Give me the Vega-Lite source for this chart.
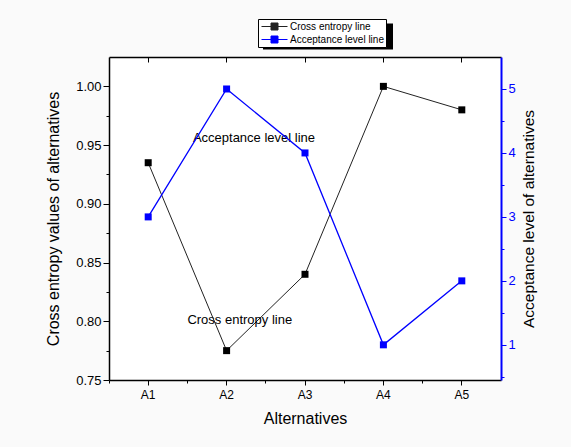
{
  "$schema": "https://vega.github.io/schema/vega-lite/v6.json",
  "width": 392,
  "height": 323,
  "autosize": {"type": "none"},
  "padding": {"left": 109, "top": 57, "right": 70, "bottom": 67},
  "background": "#fafafa",
  "config": {
    "font": "Liberation Sans",
    "view": {"stroke": null, "fill": "white"},
    "axis": {
      "labelFont": "Liberation Sans",
      "titleFont": "Liberation Sans",
      "titleFontWeight": "normal",
      "labelColor": "#000",
      "titleColor": "#000",
      "domainColor": "#000",
      "tickColor": "#000",
      "domainWidth": 1.5,
      "tickWidth": 1,
      "grid": false
    },
    "legend": {
      "orient": "none",
      "padding": 2,
      "labelFont": "Liberation Sans",
      "labelFontSize": 10,
      "labelColor": "#000",
      "labelOffset": 10,
      "symbolOffset": 9,
      "symbolType": "M-2.6,0H-0.7M0.7,0H2.6M-0.7,-0.7H0.7V0.7H-0.7Z",
      "symbolSize": 100,
      "symbolStrokeWidth": 1,
      "rowPadding": 2,
      "cornerRadius": 0
    }
  },
  "data": {
    "values": [
      {"alt": "A1", "entropy": 0.935, "acceptance": 3},
      {"alt": "A2", "entropy": 0.775, "acceptance": 5},
      {"alt": "A3", "entropy": 0.84, "acceptance": 4},
      {"alt": "A4", "entropy": 1.0, "acceptance": 1},
      {"alt": "A5", "entropy": 0.98, "acceptance": 2}
    ]
  },
  "layer": [
    {
      "encoding": {
        "x": {
          "field": "alt",
          "type": "ordinal",
          "bandPosition": 0.5,
          "scale": {"type": "band", "paddingInner": 0, "paddingOuter": 0},
          "axis": {
            "orient": "bottom",
            "title": "Alternatives",
            "titleFontSize": 16,
            "titlePadding": 10,
            "labelFontSize": 12,
            "labelAngle": 0,
            "labelPadding": 4,
            "tickSize": 5,
            "bandPosition": 0.5
          }
        },
        "y": {
          "field": "entropy",
          "type": "quantitative",
          "scale": {"domain": [0.75, 1.025], "nice": false, "zero": false},
          "axis": {
            "orient": "left",
            "title": "Cross entropy values of alternatives",
            "titleFontSize": 16,
            "titlePadding": 14,
            "labelFontSize": 13,
            "labelPadding": 2,
            "values": [0.75, 0.775, 0.8, 0.825, 0.85, 0.875, 0.9, 0.925, 0.95, 0.975, 1.0],
            "labelExpr": "round(datum.value*1000) % 50 == 0 ? format(datum.value, '.2f') : ''",
            "tickSize": {"condition": {"test": "round(datum.value*1000) % 50 == 0", "value": 6}, "value": 3}
          }
        }
      },
      "layer": [
        {
          "mark": {"type": "line", "strokeWidth": 1},
          "encoding": {
            "color": {
              "datum": "Cross entropy line",
              "type": "nominal",
              "scale": {"domain": ["Cross entropy line", "Acceptance level line"], "range": ["#222222", "#0000ff"]},
              "legend": {
                "title": null,
                "legendX": 149,
                "legendY": -38,
                "strokeColor": "#000",
                "fillColor": "white",
                "zindex": 2,
                "encode": {"symbols": {"update": {"fill": {"scale": "color", "field": "value"}}}}
              }
            }
          }
        },
        {
          "mark": {"type": "point", "shape": "square", "filled": true, "size": 49, "color": "#000", "opacity": 1}
        },
        {
          "data": {
            "values": [
              {"alt": "A2", "entropy": 0.956, "label": "Acceptance level line"}
            ]
          },
          "mark": {"type": "text", "align": "left", "baseline": "middle", "fontSize": 13, "color": "#000"},
          "encoding": {
            "text": {"field": "label"},
            "x": {"field": "alt", "type": "ordinal", "bandPosition": 0.07}
          }
        },
        {
          "data": {
            "values": [
              {"alt": "A2", "entropy": 0.801, "label": "Cross entropy line"}
            ]
          },
          "mark": {"type": "text", "align": "left", "baseline": "middle", "fontSize": 13, "color": "#000"},
          "encoding": {
            "text": {"field": "label"},
            "x": {"field": "alt", "type": "ordinal", "bandPosition": 0}
          }
        }
      ]
    },
    {
      "encoding": {
        "x": {
          "field": "alt",
          "type": "ordinal",
          "bandPosition": 0.5,
          "axis": {
            "orient": "top",
            "title": null,
            "labels": false,
            "tickSize": -5,
            "bandPosition": 0.5
          }
        },
        "y": {
          "field": "acceptance",
          "type": "quantitative",
          "scale": {"domain": [0.45, 5.5], "nice": false, "zero": false},
          "axis": {
            "orient": "right",
            "title": "Acceptance level of alternatives",
            "titleFontSize": 15.5,
            "titleAngle": 270,
            "titlePadding": 21,
            "labelFontSize": 13,
            "labelPadding": 2,
            "labelColor": "#0000ff",
            "domainColor": "#0000ff",
            "tickColor": "#0000ff",
            "domainWidth": 2,
            "values": [0.5, 1, 1.5, 2, 2.5, 3, 3.5, 4, 4.5, 5],
            "labelExpr": "datum.value % 1 == 0 ? format(datum.value, 'd') : ''",
            "tickSize": {"condition": {"test": "datum.value % 1 == 0", "value": 5}, "value": 3}
          }
        }
      },
      "layer": [
        {
          "mark": {"type": "line", "strokeWidth": 1.3},
          "encoding": {
            "color": {"datum": "Acceptance level line", "type": "nominal"}
          }
        },
        {
          "mark": {"type": "point", "shape": "square", "filled": true, "size": 49, "color": "#0000ff", "opacity": 1}
        }
      ]
    },
    {
      "mark": {"type": "point", "filled": true, "color": "#000", "opacity": 0, "size": 1},
      "encoding": {
        "x": {
          "field": "alt",
          "type": "ordinal",
          "axis": {
            "orient": "bottom",
            "title": null,
            "labels": false,
            "domain": false,
            "tickSize": 3,
            "bandPosition": 0
          }
        },
        "shape": {
          "datum": "shadow",
          "type": "nominal",
          "scale": {"domain": ["shadow"], "range": ["M-1,-0.2H1V0.2H-1Z"]},
          "legend": {
            "title": null,
            "legendX": 154,
            "legendY": -85.5,
            "padding": 0,
            "strokeColor": null,
            "fillColor": null,
            "labelExpr": "''",
            "labelOffset": 0,
            "symbolOffset": 0,
            "symbolSize": 16900,
            "symbolFillColor": "#000",
            "symbolStrokeColor": "#000",
            "symbolStrokeWidth": 0,
            "symbolOpacity": 1,
            "zindex": 1,
            "encode": {"symbols": {"update": {"opacity": {"value": 1}, "fill": {"value": "#000"}, "fillOpacity": {"value": 1}}}}
          }
        }
      }
    }
  ],
  "resolve": {"scale": {"y": "independent"}, "axis": {"x": "independent"}}
}
